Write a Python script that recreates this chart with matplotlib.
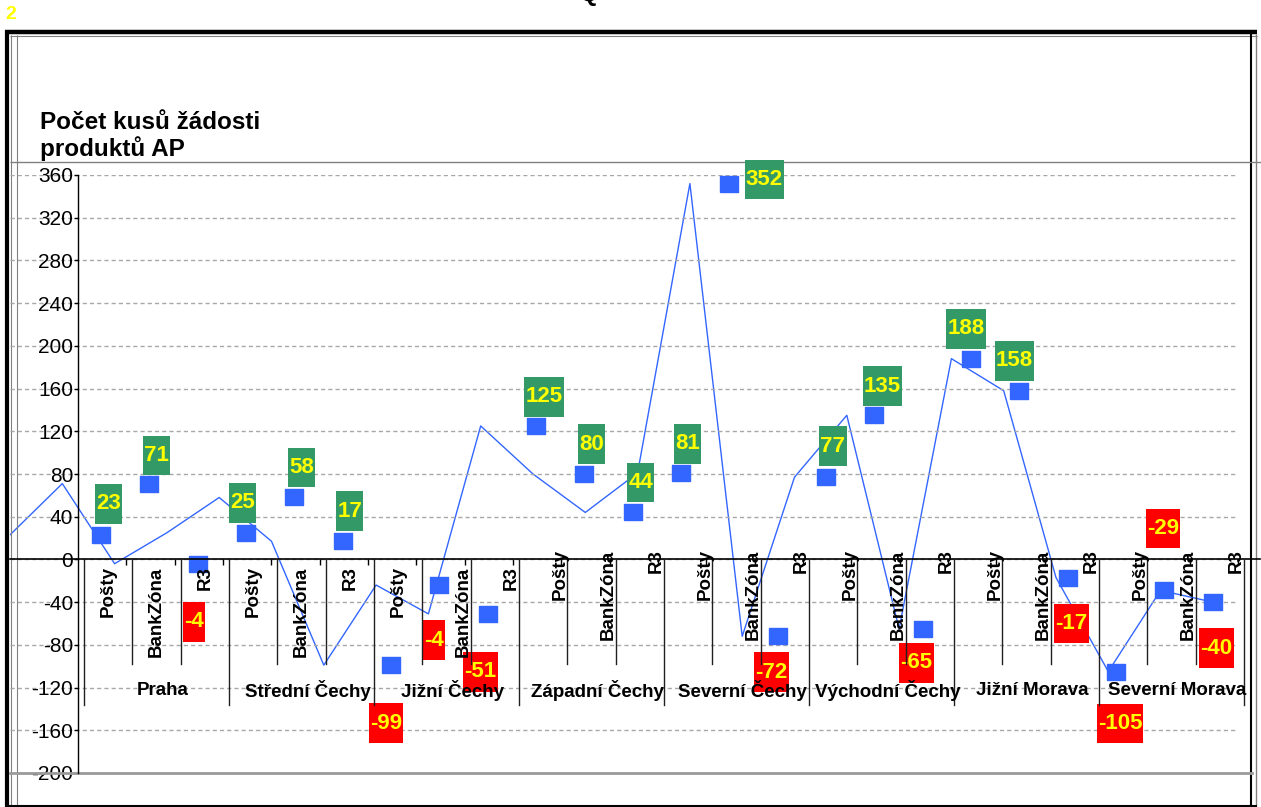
import numpy as np
import matplotlib
matplotlib.use("Agg")
import matplotlib.pyplot as plt
from matplotlib.lines import Line2D
from matplotlib.path import Path

plt.rcParams['font.family'] = ['Liberation Sans', 'DejaVu Sans']
plt.rcParams['axes.unicode_minus'] = False

# Data.
regions = ["Praha", "Střední Čechy", "Jižní Čechy", "Západní Čechy",
           "Severní Čechy", "Východní Čechy", "Jižní Morava", "Severní Morava"]
channels = ["Pošty", "BankZóna", "R3"]
values = [23, 71, -4, 25, 58, 17, -99, -24, -51, 125, 80, 44,
          81, 352, -72, 77, 135, -65, 188, 158, -17, -105, -29, -40]
value_labels = ["23", "71", "-4", "25", "58", "17", "-99", "-4", "-51",
                "125", "80", "44", "81", "352", "-72", "77", "135", "-65",
                "188", "158", "-17", "-105", "-29", "-40"]
y_ticks = list(range(-200, 361, 40))

# Where each value box sits relative to its square (pixels right, pixels down).
label_offsets = [(8, -31), (7, -28), (-4, 58), (-3, -30), (7, -30), (7, -30),
                 (-5, 58), (-5, 55), (-7, 58), (8, -29), (7, -30), (8, -30),
                 (7, -29), (35, -4), (-6, 36), (7, -31), (8, -29), (-6, 34),
                 (-5, -30), (-5, -30), (4, 46), (4, 52), (-1, -62), (4, 46)]

W, H = 1261, 807
PT = 0.72  # points per pixel at dpi 100


def fx(px):
    return px / W


def fy(py):
    return 1 - py / H


def tall_box(x0, y0, width, height, mutation_size):
    # narrow side padding, tall top/bottom padding like the Excel labels
    padx = 0.05 * mutation_size
    pady = 0.42 * mutation_size
    return Path([(x0 - padx, y0 - pady), (x0 + width + padx, y0 - pady),
                 (x0 + width + padx, y0 + height + pady),
                 (x0 - padx, y0 + height + pady), (x0 - padx, y0 - pady)],
                closed=True)


fig = plt.figure(figsize=(W / 100, H / 100), dpi=100)

slot = 145 / 3  # pixel width of one category
ax = fig.add_axes([fx(10), fy(773), (1237 - 10) / W, (773 - 175) / H])
ax.set_ylim(-200, 360)
ax.set_xlim((10 - 84) / slot, (1237 - 84) / slot)

# axes cosmetics
for s in ['top', 'right', 'bottom']:
    ax.spines[s].set_visible(False)
ax.spines['left'].set_position(('data', (78 - 84) / slot))
ax.spines['left'].set_linewidth(1)
ax.set_xticks([])
ax.set_yticks(y_ticks)
ax.tick_params(axis='y', direction='out', length=3, width=1, pad=0.5, labelsize=15)
ax.yaxis.grid(True, linestyle=(0, (3, 2.2)), color='#a8a8a8', linewidth=1)
ax.set_axisbelow(True)
ax.axhline(-200, xmax=(1252 - 10) / 1227, color='#9a9a9a', lw=2, clip_on=False)
ax.axhline(0, xmax=(1260 - 10) / 1227, color='black', lw=1.2, clip_on=False, zorder=5)

# category separators and small ticks
for k in range(25):
    depth = -136.7 if k % 3 == 0 else -97.5
    ax.plot([k, k], [0, depth], color='#202020', lw=1, clip_on=False, zorder=5)
ax.vlines(np.arange(1, 25) - 0.124, -5.5, 0, color='black', lw=1, clip_on=False, zorder=5)

# channel labels
for i in range(24):
    name = channels[i % 3]
    if i < 7:
        x, ha, dy = i + 0.5, 'center', -7
    elif i < 9:
        x, ha, dy = i + 1 + 1 / slot, 'right', -7
    else:
        x, ha, dy = i + 1 + 1 / slot, 'right', 10
    ax.annotate(name, (x, 0), xytext=(0, dy * PT), textcoords='offset points',
                rotation=90, ha=ha, va='top', fontsize=13.5, fontweight='bold',
                zorder=6, annotation_clip=False)

# region labels
for r, name in enumerate(regions):
    ax.text(3 * r + 1.5 + 6 / slot, -123, name, ha='center', va='center',
            fontsize=13.5, fontweight='bold', zorder=6, clip_on=False)

# blue squares
rect = [(-0.6, -0.5), (0.6, -0.5), (0.6, 0.5), (-0.6, 0.5), (-0.6, -0.5)]
xs = np.arange(24) + 0.35
ax.plot(xs, values, ls='none', marker=rect, ms=13, color='#3366ff',
        mec='#3366ff', zorder=3)

# value boxes
for i, (v, lbl) in enumerate(zip(values, value_labels)):
    dx, dy = label_offsets[i]
    fc = '#339966' if v > 0 else '#ff0000'
    ax.annotate(lbl, (xs[i], v), xytext=(dx * PT, -dy * PT), textcoords='offset points',
                ha='center', va='center', fontsize=16, fontweight='bold',
                color='#ffff00', zorder=4, annotation_clip=False,
                bbox=dict(boxstyle=tall_box, fc=fc, ec='none'))

# the thin line series, drawn on its own category spacing
ax2 = ax.twiny()
ax2.set_xlim(0, (1237 - 10) / 52.3)
ax2.plot(np.arange(24), values, color='#3366ff', lw=1)
ax2.set_axis_off()
ax.set_zorder(2)
ax.patch.set_visible(False)
ax2.set_zorder(1)


# frame around the chart
def frame_line(xx, yy, color, lw):
    fig.add_artist(Line2D([fx(x) for x in xx], [fy(y) for y in yy],
                          transform=fig.transFigure, color=color, lw=lw,
                          solid_capstyle='butt'))


frame_line([5, 1257], [32, 32], 'black', 3.2)
frame_line([10, 1257], [35.5, 35.5], '#808080', 0.8)
frame_line([7.3, 7.3], [30, 807], 'black', 3)
frame_line([10.5, 10.5], [35, 807], '#808080', 0.8)
frame_line([16.5, 16.5], [35, 807], '#808080', 0.8)
frame_line([1251, 1251], [34, 807], 'black', 1.5)
frame_line([1256, 1256], [34, 807], '#808080', 1)
frame_line([5, 1257], [806, 806], 'black', 1.5)
frame_line([10, 1261], [162, 162], '#808080', 1)

fig.text(fx(40), fy(111), "Počet kusů žádosti\nproduktů AP", fontsize=17.5,
         fontweight='bold', ha='left', va='top', linespacing=1.1)
fig.text(fx(5), fy(6), "2", color='#ffff00', fontsize=14, fontweight='bold',
         ha='left', va='top')
fig.text(fx(580), fy(1), "Q", fontsize=17, fontweight='bold', ha='left', va='baseline')

fig.savefig("out.png", dpi=100)
